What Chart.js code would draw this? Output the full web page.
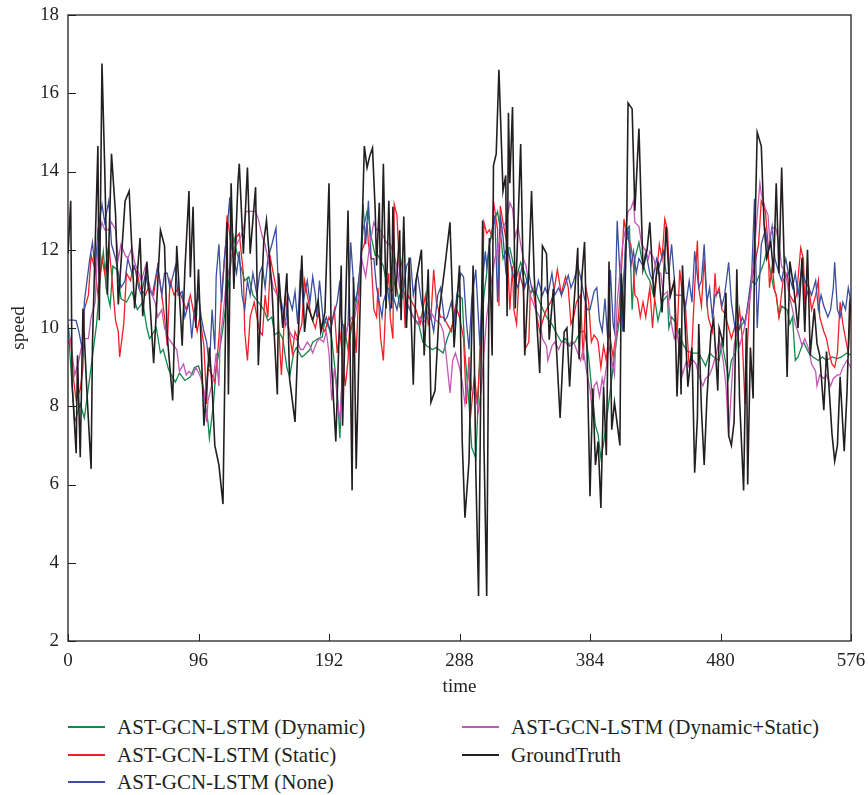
<!DOCTYPE html>
<html>
<head>
<meta charset="utf-8">
<script src="https://cdn.jsdelivr.net/npm/chart.js@4.4.1/dist/chart.umd.min.js"></script>
<style>
  html, body { margin: 0; padding: 0; background: #fff; }
  #wrap { position: relative; width: 868px; height: 795px; }
  #box { position: absolute; left: 0; top: 0; width: 868px; height: 700px; }
  #legend { position: absolute; left: 0; top: 700px; width: 868px; height: 95px;
            font-family: "Liberation Serif", "DejaVu Serif", serif; font-size: 21px; color: #231f20; }
  .item { position: absolute; display: flex; align-items: center; height: 26px; }
  .swatch { width: 37px; height: 2px; margin-right: 12px; }
</style>
</head>
<body>
<div id="wrap">
  <div id="box"><canvas id="speedChart"></canvas></div>
  <div id="legend"></div>
</div>
<script>
'use strict';

// x ticks and y ticks
const timeTicks = [0, 96, 192, 288, 384, 480, 576];
const speedTicks = [2, 4, 6, 8, 10, 12, 14, 16, 18];

const seriesNames = [
    'AST-GCN-LSTM (Dynamic)',
    'AST-GCN-LSTM (Static)',
    'AST-GCN-LSTM (None)',
    'AST-GCN-LSTM (Dynamic+Static)',
    'GroundTruth'
];
const seriesColors = ['#12884a', '#f41f26', '#3a4fa0', '#c257b5', '#231f20'];

// [time step, speed]
const dynamicPred = [[0,10.1],[3,8.5],[5,7.6],[9,8.06],[12,7.7],[17,9.0],[21,10.1],[24,11.4],[26,11.95],[28,11.03],[31,10.56],[33,11.58],[36,11.49],[39,10.75],[43,10.66],[47,10.93],[51,10.47],[55,10.66],[58,10.0],[60,9.73],[65,10.0],[68,9.36],[70,9.45],[74,8.94],[76,8.8],[79,8.62],[82,8.85],[86,8.66],[90,8.75],[93,8.99],[96,9.03],[98,8.8],[101,8.06],[103,7.59],[104,7.18],[107,8.06],[109,8.99],[112,9.54],[114,10.0],[117,10.84],[119,11.4],[122,12.33],[124,11.96],[127,11.58],[130,11.21],[133,11.31],[136,10.84],[140,10.66],[144,10.47],[147,10.19],[150,10.28],[152,9.82],[155,9.91],[158,9.73],[161,8.99],[163,8.75],[166,9.36],[168,9.5],[172,9.26],[174,9.31],[178,9.45],[180,9.64],[184,9.73],[187,9.77],[189,10.19],[192,10.0],[194,9.73],[196,9.08],[198,8.43],[200,7.18],[203,10.1],[206,9.45],[209,10.1],[212,10.66],[215,11.58],[217,12.5],[220,12.98],[221,12.88],[223,12.33],[226,11.86],[228,11.86],[232,11.58],[235,11.03],[238,10.93],[241,11.21],[244,10.56],[247,10.93],[250,10.56],[254,10.28],[258,10.1],[261,9.64],[264,9.54],[268,9.45],[271,9.5],[276,9.36],[279,9.73],[284,10.19],[287,10.84],[290,10.75],[292,9.36],[295,8.06],[297,6.94],[300,6.67],[301,7.5],[303,9.45],[306,10.84],[308,11.4],[310,12.14],[313,12.7],[316,12.98],[318,12.51],[320,11.77],[323,12.05],[325,12.05],[328,11.58],[330,11.31],[333,11.68],[336,11.4],[340,10.93],[344,10.93],[347,10.66],[352,10.28],[356,10.1],[360,9.82],[363,9.64],[366,9.73],[369,9.54],[373,9.64],[377,9.91],[380,9.91],[383,9.26],[385,8.52],[388,7.5],[390,7.27],[392,6.67],[394,7.04],[396,7.59],[399,8.43],[401,8.99],[404,9.82],[406,10.28],[409,11.4],[411,12.51],[413,12.6],[415,10.47],[417,11.77],[420,12.19],[422,11.77],[425,11.4],[428,11.21],[432,10.66],[434,10.19],[437,10.66],[441,10.84],[442,10.0],[444,10.28],[447,10.14],[449,9.91],[453,9.54],[456,9.4],[460,9.36],[464,9.36],[467,9.17],[469,9.03],[472,9.36],[475,9.26],[479,9.17],[481,9.64],[483,9.26],[486,8.71],[488,9.17],[491,9.36],[493,9.91],[496,10.1],[498,10.19],[501,10.66],[503,11.21],[506,11.12],[509,11.4],[512,11.68],[514,11.96],[517,11.4],[519,11.03],[521,10.84],[523,10.28],[525,10.56],[529,10.47],[531,10.1],[533,10.28],[535,9.17],[537,9.26],[541,9.64],[545,9.36],[548,9.26],[552,9.17],[555,9.26],[558,9.17],[562,9.26],[566,9.22],[569,9.26],[573,9.36],[576,9.31]];

const staticPred = [[0,9.6],[2,9.73],[4,8.71],[6,8.15],[9,8.43],[11,8.99],[12,10.47],[15,10.84],[17,11.86],[20,11.49],[22,10.84],[25,11.77],[27,11.4],[30,12.14],[32,11.4],[35,10.19],[37,9.91],[38,9.26],[41,10.1],[43,11.4],[46,11.21],[48,11.58],[51,11.4],[53,11.03],[57,10.84],[59,11.03],[63,10.84],[66,11.58],[69,10.84],[71,10.28],[73,9.54],[75,11.21],[78,10.84],[81,11.03],[85,10.66],[87,10.47],[90,10.84],[92,10.47],[95,9.91],[97,10.28],[100,9.54],[102,8.06],[103,8.99],[106,8.8],[108,8.62],[111,9.73],[113,10.84],[116,12.14],[117,12.88],[120,12.14],[122,11.77],[124,12.33],[126,12.42],[129,11.4],[130,9.91],[132,9.17],[134,10.28],[137,10.66],[139,10.28],[141,9.91],[143,9.82],[145,10.84],[147,10.28],[149,11.77],[151,11.4],[154,10.84],[156,9.36],[157,8.8],[160,10.84],[162,10.1],[165,9.36],[167,9.91],[169,9.73],[172,10.1],[174,11.21],[177,10.66],[179,10.28],[182,10.0],[184,10.38],[187,10.0],[189,9.91],[192,10.28],[194,10.1],[196,10.47],[198,9.36],[200,9.91],[202,9.26],[204,8.52],[206,9.17],[207,9.91],[210,10.28],[212,9.36],[214,11.03],[216,11.96],[218,12.14],[220,12.7],[221,12.14],[223,11.77],[225,10.47],[227,10.28],[228,11.03],[230,9.73],[232,9.17],[234,10.84],[236,11.4],[237,10.28],[239,9.73],[240,13.16],[242,12.88],[244,11.4],[246,11.77],[248,10.0],[250,10.84],[253,10.66],[256,10.47],[259,10.1],[263,10.84],[265,10.1],[267,10.28],[269,11.49],[271,10.66],[274,10.28],[276,10.28],[279,10.1],[282,9.91],[285,10.56],[288,10.28],[291,9.73],[293,8.06],[295,9.26],[296,7.69],[299,8.8],[301,8.06],[303,9.17],[304,9.91],[306,12.7],[308,12.42],[310,12.51],[312,12.33],[313,13.25],[316,12.51],[317,10.56],[318,13.12],[320,12.7],[323,12.14],[325,10.47],[327,11.58],[328,10.47],[330,10.1],[332,11.4],[335,11.03],[336,9.45],[339,9.64],[340,10.84],[342,11.03],[345,10.28],[347,9.91],[350,10.28],[352,10.47],[355,10.66],[357,10.84],[360,11.49],[363,10.84],[364,11.03],[366,11.31],[368,11.03],[370,10.1],[372,10.28],[374,10.66],[377,10.84],[379,9.17],[381,11.03],[383,10.66],[385,9.64],[387,9.82],[389,9.73],[390,9.64],[392,8.99],[394,9.54],[396,9.17],[398,9.91],[401,9.26],[402,9.54],[405,10.28],[407,11.4],[409,12.79],[411,12.33],[414,12.14],[416,11.58],[417,10.84],[419,10.75],[421,10.28],[423,10.66],[425,10.28],[428,11.03],[430,10.0],[433,11.4],[435,12.14],[437,11.77],[439,12.79],[441,12.51],[443,10.84],[446,11.21],[448,9.73],[450,11.49],[452,10.84],[454,10.66],[457,8.99],[459,9.54],[461,11.03],[463,12.23],[464,11.03],[466,10.56],[468,11.77],[470,10.66],[471,10.28],[474,9.91],[476,11.4],[477,10.84],[479,11.03],[481,10.47],[483,10.38],[486,10.0],[488,9.73],[491,10.1],[492,9.91],[494,10.47],[496,9.73],[498,8.06],[500,9.73],[502,11.03],[503,11.21],[506,11.77],[508,12.14],[510,13.25],[513,12.98],[515,12.14],[516,11.03],[518,11.58],[520,10.93],[521,10.84],[523,10.28],[526,11.21],[529,11.4],[531,10.84],[534,10.66],[536,10.84],[539,12.05],[541,11.77],[542,10.66],[545,11.03],[547,10.47],[550,10.84],[552,11.21],[553,10.28],[556,9.91],[558,9.73],[560,9.36],[562,9.08],[564,8.99],[566,9.36],[568,10.66],[570,10.1],[572,9.73],[574,9.36],[576,10.7]];

const nonePred = [[0,10.2],[4,10.2],[6,10.19],[8,9.91],[11,9.36],[12,10.66],[14,11.21],[16,11.77],[18,12.19],[20,11.4],[22,12.51],[25,13.16],[27,12.7],[30,13.25],[32,12.14],[35,11.77],[37,11.4],[39,11.03],[42,11.21],[44,11.77],[47,11.4],[49,11.58],[52,11.03],[54,10.84],[57,11.4],[59,11.03],[62,10.84],[64,11.21],[66,11.58],[69,10.84],[71,11.4],[73,11.4],[75,11.03],[79,11.58],[81,10.84],[84,10.93],[86,10.28],[89,10.66],[91,9.73],[93,10.47],[96,10.84],[98,10.28],[100,9.91],[102,9.64],[104,8.99],[106,10.47],[108,9.45],[109,11.31],[111,12.14],[113,10.66],[115,11.77],[117,12.51],[119,13.34],[120,12.14],[122,11.77],[124,11.4],[126,11.96],[128,10.84],[130,10.47],[132,11.21],[134,10.84],[136,11.4],[139,10.84],[141,11.4],[143,11.58],[145,11.03],[147,11.77],[150,12.14],[153,12.56],[155,10.84],[157,10.66],[160,10.1],[162,10.84],[165,10.47],[167,10.93],[169,10.1],[171,11.49],[173,10.66],[176,11.21],[178,10.66],[180,11.31],[182,10.84],[183,10.28],[185,11.21],[188,10.1],[190,10.28],[193,9.91],[195,10.28],[198,10.66],[200,11.21],[201,10.28],[204,9.73],[206,10.1],[208,12.19],[211,10.66],[213,10.93],[215,11.58],[217,13.16],[219,12.14],[221,13.25],[223,11.77],[225,11.77],[227,11.03],[229,10.66],[231,10.28],[232,10.66],[235,11.03],[237,10.47],[239,10.84],[242,10.47],[244,10.84],[247,11.03],[249,11.58],[252,11.77],[254,10.84],[257,11.4],[260,10.66],[262,10.28],[264,10.66],[267,10.28],[269,9.91],[272,10.84],[274,11.03],[277,10.19],[279,10.28],[282,10.66],[284,10.1],[286,10.84],[289,11.4],[291,11.31],[293,10.19],[295,9.45],[297,10.75],[300,11.49],[301,10.84],[303,9.54],[305,11.21],[307,11.96],[308,11.58],[310,12.14],[312,12.42],[314,12.88],[316,10.66],[318,12.88],[320,12.33],[322,11.49],[324,11.96],[327,11.4],[329,11.21],[331,11.03],[334,11.58],[336,11.03],[339,11.4],[341,11.03],[344,10.84],[346,11.21],[349,10.84],[351,11.03],[353,10.84],[356,11.4],[358,10.84],[361,11.03],[363,10.84],[365,11.03],[368,11.35],[370,11.03],[372,11.21],[375,11.58],[377,11.31],[380,10.75],[382,10.47],[384,10.47],[387,10.93],[389,11.03],[391,10.19],[393,9.91],[395,10.75],[397,9.73],[399,11.49],[401,10.1],[402,9.91],[404,12.74],[406,11.4],[408,9.91],[410,12.14],[412,12.51],[414,11.58],[416,11.96],[418,11.4],[420,11.77],[423,11.58],[425,11.96],[428,11.4],[430,11.21],[433,11.77],[435,11.58],[438,11.96],[440,11.4],[442,11.4],[444,12.14],[447,10.84],[449,10.84],[452,10.84],[454,10.47],[457,11.21],[459,10.66],[461,11.96],[464,11.03],[466,11.21],[468,12.14],[470,10.66],[472,11.03],[474,10.28],[476,10.84],[479,10.93],[481,10.56],[483,10.84],[486,11.68],[488,10.66],[491,9.91],[493,9.91],[496,10.28],[498,10.1],[501,10.84],[503,11.4],[505,13.3],[507,10.0],[510,12.14],[513,12.51],[515,11.96],[518,12.6],[520,11.77],[523,11.4],[525,11.21],[528,11.77],[530,11.4],[533,11.03],[535,11.4],[537,10.84],[540,11.58],[542,11.21],[545,11.03],[547,10.84],[550,11.21],[552,10.47],[554,10.84],[556,10.56],[559,10.28],[561,10.47],[563,11.03],[564,11.68],[566,10.47],[568,10.28],[570,10.66],[572,10.47],[574,11.03],[576,10.66]];

const dynStaticPred = [[0,10.1],[3,9.36],[5,8.8],[8,9.17],[10,9.54],[12,9.73],[15,9.73],[17,10.28],[20,10.66],[22,12.14],[25,12.7],[27,12.51],[30,12.51],[32,12.7],[35,12.51],[37,11.77],[39,12.14],[42,11.86],[44,11.77],[47,12.05],[49,11.68],[52,11.4],[54,11.21],[57,11.58],[59,11.21],[62,10.84],[64,10.66],[66,10.28],[69,10.47],[71,10.0],[74,9.73],[78,9.54],[80,9.45],[82,8.89],[85,9.08],[87,8.8],[89,8.89],[92,8.8],[94,8.99],[97,8.8],[100,8.43],[102,7.59],[103,8.15],[105,8.43],[107,8.71],[109,9.36],[111,8.52],[112,9.73],[114,10.28],[116,11.03],[118,11.4],[120,11.77],[122,12.05],[124,12.14],[127,12.33],[129,12.51],[131,12.98],[133,12.98],[135,12.98],[138,12.98],[140,12.79],[143,12.33],[145,12.14],[147,11.77],[149,11.4],[151,11.03],[154,10.84],[156,10.66],[158,10.28],[161,10.1],[163,9.91],[166,9.73],[168,9.73],[171,9.45],[173,9.45],[176,9.64],[178,9.54],[180,9.36],[183,9.64],[185,9.73],[188,9.64],[190,9.91],[192,9.36],[194,8.15],[196,8.99],[198,8.24],[200,7.59],[202,8.99],[204,9.73],[206,10.1],[209,10.28],[211,10.28],[214,10.84],[216,11.77],[219,11.31],[222,12.14],[225,12.7],[227,12.51],[230,12.51],[232,12.33],[235,12.14],[237,12.14],[239,11.96],[242,11.58],[244,11.03],[247,10.84],[249,10.66],[252,10.47],[254,10.28],[257,10.1],[259,10.28],[261,10.1],[264,10.28],[266,10.47],[269,10.28],[271,10.19],[274,10.1],[276,9.91],[278,9.36],[281,8.34],[283,9.17],[285,9.36],[288,8.99],[290,8.62],[292,8.06],[295,8.99],[297,8.43],[300,8.24],[302,7.87],[304,8.43],[306,9.36],[308,10.28],[310,10.84],[312,11.31],[314,11.77],[317,12.14],[319,12.51],[322,12.7],[324,12.98],[325,13.2],[327,13.05],[329,12.33],[331,12.6],[333,12.14],[335,11.77],[337,11.58],[340,10.84],[342,10.66],[344,10.47],[347,10.28],[349,9.73],[352,9.54],[353,9.17],[356,9.54],[358,9.64],[361,9.45],[363,9.64],[366,9.64],[368,9.54],[370,9.64],[372,9.64],[375,9.36],[377,9.17],[379,9.45],[381,8.99],[384,8.43],[386,7.78],[387,8.52],[389,8.62],[391,8.24],[393,8.71],[394,8.52],[396,8.99],[398,9.54],[400,9.17],[402,8.8],[404,10.66],[406,11.4],[408,12.14],[410,12.51],[412,12.98],[414,13.05],[416,13.25],[417,12.7],[420,12.6],[422,12.14],[425,11.96],[427,11.77],[428,11.96],[431,11.77],[433,11.4],[436,11.4],[438,10.84],[441,10.93],[443,10.28],[446,9.73],[448,9.91],[450,9.36],[452,8.8],[455,9.17],[457,8.99],[460,9.17],[462,9.08],[464,8.8],[467,8.52],[469,8.71],[472,8.8],[474,8.99],[477,9.36],[479,9.73],[482,9.17],[484,8.52],[486,7.27],[488,8.43],[490,9.54],[492,9.91],[494,9.54],[497,9.91],[499,10.28],[502,10.84],[504,11.58],[507,12.88],[509,13.7],[510,13.43],[513,13.05],[515,12.88],[516,12.33],[518,12.51],[520,12.6],[521,12.51],[523,12.14],[525,11.58],[528,11.4],[530,10.93],[533,10.47],[535,10.1],[537,9.91],[540,9.54],[542,9.73],[545,9.45],[547,9.08],[550,8.89],[551,8.52],[553,8.8],[556,8.71],[558,8.8],[561,8.52],[563,8.71],[566,8.8],[568,8.8],[570,8.99],[573,9.17],[576,8.99]];

const groundTruth = [[0,11.9],[2,13.25],[3,8.6],[6,6.8],[7,9.3],[9,6.7],[11,10.5],[14,8.3],[17,6.4],[18,9.6],[22,14.65],[23,10.2],[25,16.76],[27,14.1],[29,10.85],[32,14.45],[35,12.9],[37,10.6],[42,13.25],[45,13.5],[49,10.5],[53,12.3],[55,10.3],[58,11.7],[60,10.8],[63,9.1],[68,12.5],[71,12.1],[73,9.8],[77,8.15],[80,12.1],[84,9.55],[86,11.5],[89,13.5],[90,11.3],[92,13.1],[94,10.0],[96,11.5],[100,7.5],[104,9.5],[106,8.5],[108,7.0],[111,6.5],[114,5.5],[117,12.7],[118,8.3],[120,13.7],[122,11.0],[125,13.7],[126,14.2],[129,11.9],[132,14.1],[134,11.9],[138,13.6],[140,9.05],[144,12.2],[146,12.75],[150,11.0],[154,8.3],[155,11.4],[158,10.0],[161,11.4],[163,8.7],[167,7.6],[169,9.5],[172,11.85],[174,9.9],[176,10.6],[180,10.2],[184,10.7],[186,9.9],[189,10.4],[192,13.7],[194,9.0],[197,7.1],[201,11.6],[202,7.5],[206,13.0],[209,5.85],[210,11.3],[212,6.4],[214,9.3],[216,12.1],[218,14.65],[220,14.1],[222,14.4],[224,14.6],[226,13.0],[227,11.6],[229,13.2],[230,10.8],[232,14.2],[234,10.5],[236,13.25],[238,10.5],[239,13.1],[241,10.8],[244,12.5],[245,10.2],[247,12.85],[249,10.0],[251,11.8],[254,8.55],[256,11.2],[260,12.0],[262,9.3],[265,11.5],[267,8.1],[270,8.4],[273,10.4],[277,11.5],[281,12.7],[284,9.5],[288,11.6],[290,7.1],[292,5.15],[295,6.6],[298,11.6],[300,6.35],[302,3.15],[305,12.75],[306,7.0],[308,3.15],[310,12.3],[312,9.3],[313,14.15],[315,14.45],[317,16.6],[320,13.5],[322,13.9],[323,10.3],[324,15.5],[325,13.7],[327,15.65],[329,10.5],[333,14.7],[336,9.3],[339,11.5],[341,13.5],[343,11.3],[347,8.85],[349,12.1],[352,11.9],[354,9.7],[357,11.0],[362,7.7],[365,9.9],[367,10.0],[369,8.5],[372,10.5],[375,12.05],[376,9.2],[378,11.3],[380,12.2],[382,9.1],[384,5.7],[386,8.45],[388,6.5],[390,7.1],[392,5.4],[394,8.5],[396,6.75],[398,11.7],[400,7.4],[402,8.1],[406,7.0],[407,11.4],[409,9.9],[411,12.7],[412,15.75],[415,15.6],[417,13.0],[420,15.1],[423,11.5],[426,12.0],[428,12.7],[431,10.8],[434,11.7],[437,10.4],[440,12.6],[443,10.8],[446,11.2],[448,8.25],[450,10.0],[451,8.3],[452,11.6],[456,8.5],[459,9.5],[461,6.3],[463,7.7],[464,10.1],[466,7.9],[468,6.5],[470,8.2],[473,9.9],[475,10.2],[478,8.4],[479,10.0],[482,9.6],[484,10.9],[486,7.25],[488,7.0],[490,7.6],[492,11.5],[494,8.2],[497,5.85],[499,10.0],[500,6.0],[502,9.5],[504,8.2],[505,11.9],[507,15.0],[510,14.65],[512,12.7],[514,11.8],[517,12.2],[519,11.4],[521,13.7],[523,11.4],[525,14.1],[527,11.5],[529,8.75],[531,11.7],[534,11.0],[537,10.0],[540,11.8],[542,9.9],[544,12.0],[546,9.3],[549,10.5],[551,9.6],[553,9.3],[556,7.9],[558,9.4],[560,8.4],[562,7.3],[564,6.6],[566,7.0],[568,8.75],[571,6.85],[573,8.3],[575,10.6],[576,10.4]];

const allSeries = [dynamicPred, staticPred, nonePred, dynStaticPred, groundTruth];

const inkColor = '#231f20';
const serif = '"Liberation Serif", "DejaVu Serif", serif';

// inward tick marks + box around the plot
const frameAndTicks = {
    id: 'frameAndTicks',
    afterDraw(chart) {
        const { ctx, chartArea: a, scales } = chart;
        ctx.save();
        ctx.strokeStyle = inkColor;
        ctx.lineWidth = 1.3;
        ctx.strokeRect(a.left, a.top, a.right - a.left, a.bottom - a.top);
        ctx.beginPath();
        timeTicks.forEach(v => {
            const px = Math.round(scales.x.getPixelForValue(v)) + 0.5;
            ctx.moveTo(px, a.bottom);
            ctx.lineTo(px, a.bottom - 7);
        });
        speedTicks.forEach(v => {
            const py = Math.round(scales.y.getPixelForValue(v)) + 0.5;
            ctx.moveTo(a.left, py);
            ctx.lineTo(a.left + 8, py);
        });
        ctx.lineWidth = 1;
        ctx.stroke();
        ctx.restore();
    }
};

const ctx = document.getElementById('speedChart').getContext('2d');
const chart = new Chart(ctx, {
    type: 'line',
    data: {
        datasets: allSeries.map((pts, i) => ({
            label: seriesNames[i],
            data: pts.map(p => ({ x: p[0], y: p[1] })),
            borderColor: seriesColors[i],
            borderWidth: i === 4 ? 1.6 : 1.3,
            pointRadius: 0,
            tension: 0,
            fill: false,
            order: i === 4 ? 0 : 5 - i
        }))
    },
    options: {
        responsive: true,
        maintainAspectRatio: false,
        animation: false,
        layout: { padding: { left: 8, right: 17, top: 15, bottom: 0 } },
        plugins: { legend: { display: false }, tooltip: { enabled: false } },
        scales: {
            x: {
                type: 'linear',
                min: 0, max: 576,
                afterBuildTicks: s => { s.ticks = timeTicks.map(v => ({ value: v })); },
                afterFit: s => { s.height = 59; s.paddingLeft = 0; s.paddingRight = 0; },
                grid: { display: false, drawTicks: false },
                border: { display: false },
                ticks: { padding: 9, color: inkColor, font: { family: serif, size: 19 }, maxRotation: 0 },
                title: { display: true, text: 'time', color: inkColor, font: { family: serif, size: 19 }, padding: { top: 0, bottom: 2 } }
            },
            y: {
                min: 2, max: 18,
                afterBuildTicks: s => { s.ticks = speedTicks.map(v => ({ value: v })); },
                afterFit: s => { s.width = 60; s.paddingTop = 0; s.paddingBottom = 0; },
                grid: { display: false, drawTicks: false },
                border: { display: false },
                ticks: { padding: 9, color: inkColor, font: { family: serif, size: 19 } },
                title: { display: true, text: 'speed', color: inkColor, font: { family: serif, size: 19 }, padding: { top: 0, bottom: 0 } }
            }
        }
    },
    plugins: [frameAndTicks]
});

// legend in two columns, like the figure
const legendSlots = [[68, 27], [68, 55], [68, 82], [462, 27], [462, 55]];
const legendBox = document.getElementById('legend');
chart.data.datasets.forEach((ds, i) => {
    const item = document.createElement('div');
    item.className = 'item';
    item.style.left = legendSlots[i][0] + 'px';
    item.style.top = (legendSlots[i][1] - 13) + 'px';
    item.innerHTML = '<span class="swatch" style="background:' + ds.borderColor + '"></span><span>' + ds.label + '</span>';
    legendBox.appendChild(item);
});
</script>
</body>
</html>
